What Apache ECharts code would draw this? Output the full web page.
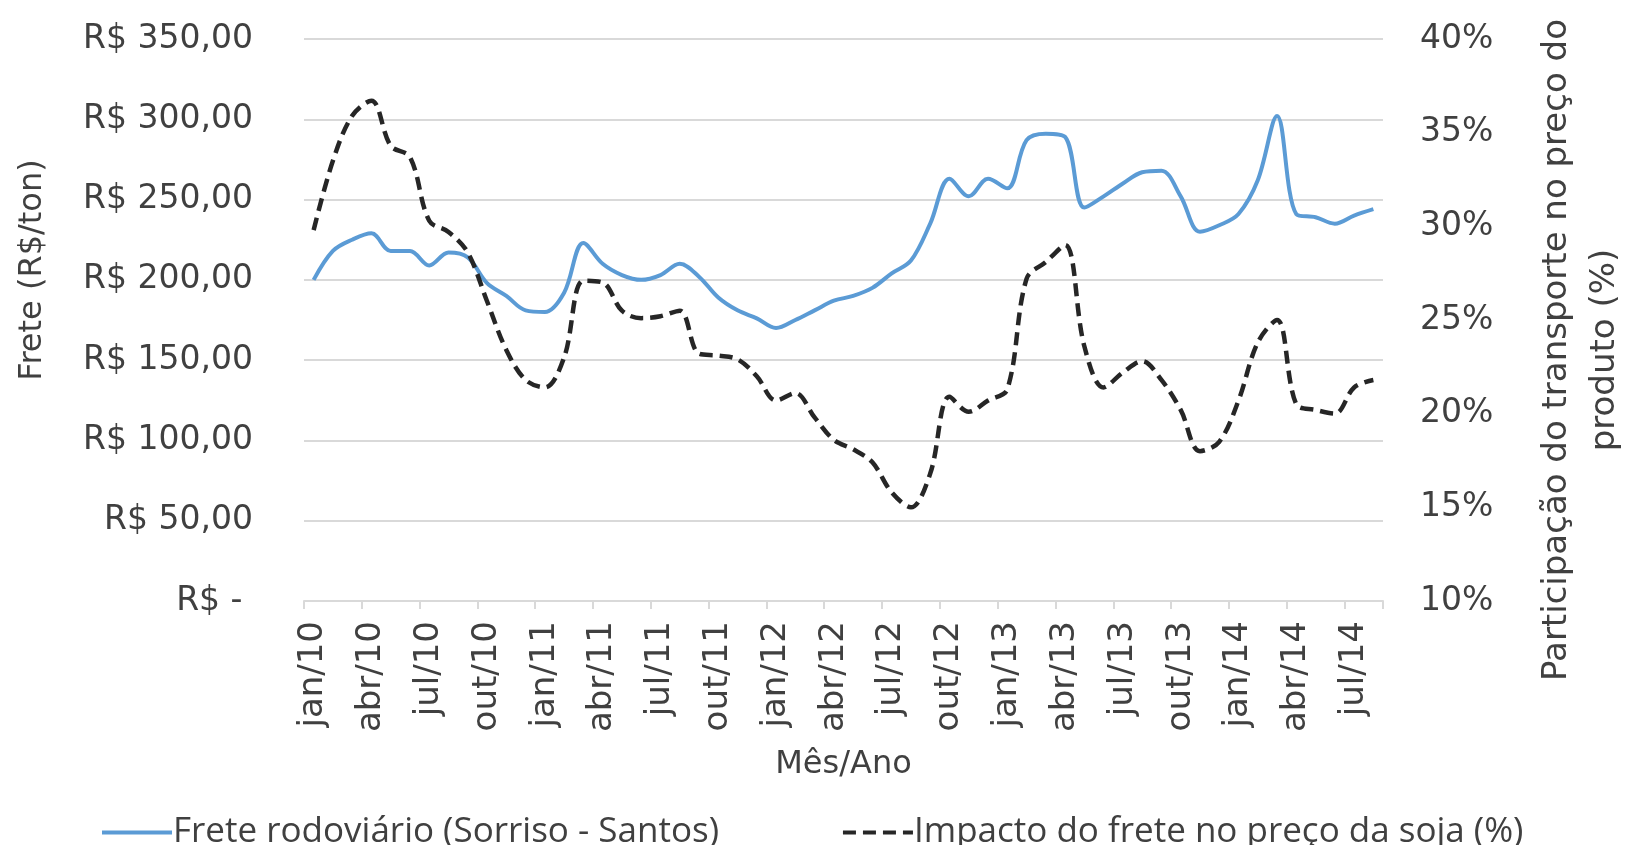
<!DOCTYPE html>
<html>
<head>
<meta charset="utf-8">
<script src="https://cdn.jsdelivr.net/npm/echarts@6/dist/echarts.min.js"></script>
<style>
  html, body { margin: 0; padding: 0; background: #fff; }
  #chart { width: 1628px; height: 845px; }
</style>
</head>
<body>
<div id="chart"></div>
<script>
// meses jan/10 .. ago/14
const mesesNomes = ['jan', 'fev', 'mar', 'abr', 'mai', 'jun', 'jul', 'ago', 'set', 'out', 'nov', 'dez']
const anos = ['10', '11', '12', '13', '14']
const meses = []
anos.forEach(a => mesesNomes.forEach(m => meses.push(m + '/' + a)))
meses.length = 56

// Frete rodoviário (R$/ton)
const frete = [
  200, 218, 225, 229, 218, 218, 209, 217, 214, 198,
  190, 181, 180, 192, 223, 210, 203, 200, 203, 210,
  202, 189, 181, 176, 170, 175, 181, 187, 190, 195,
  204, 212, 235, 263, 252, 263, 257, 287, 291, 289,
  245, 252, 260, 267, 268, 252, 230, 234, 241, 262,
  302, 241, 239, 235, 240, 244
]

// Impacto do frete no preço da soja (%)
const impacto = [
  29.8, 33.5, 35.9, 36.7, 34.3, 33.7, 30.3, 29.7, 28.6, 26.0,
  23.4, 21.8, 21.4, 23.0, 27.1, 27.0, 25.5, 25.1, 25.2, 25.5,
  23.2, 23.1, 22.9, 22.0, 20.7, 21.1, 19.8, 18.6, 18.1, 17.4,
  15.8, 15.0, 16.8, 20.9, 20.1, 20.7, 21.3, 27.2, 28.1, 29.0,
  23.6, 21.4, 22.2, 22.8, 21.8, 20.2, 18.0, 18.5, 20.7, 23.8,
  25.0, 20.5, 20.2, 20.0, 21.4, 21.8
]

const textColor = '#404040'
const tickFont = 'DejaVu Sans'

let myChart = echarts.init(document.getElementById('chart'))
let options = {
  backgroundColor: '#fff',
  animation: false,
  grid: {
    left: 304,
    right: 245,
    top: 39,
    bottom: 244,
    containLabel: false,
    outerBoundsMode: 'none'
  },
  legend: {
    left: 95,
    top: 810,
    itemWidth: 70,
    itemHeight: 14,
    itemGap: 122,
    itemStyle: { opacity: 0 },
    lineStyle: { width: 4 },
    textStyle: {
      color: textColor,
      fontFamily: 'Open Sans',
      fontSize: 35,
      padding: [0, 0, 0, -4]
    },
    data: ['Frete rodoviário (Sorriso - Santos)', 'Impacto do frete no preço da soja (%)']
  },
  xAxis: {
    type: 'category',
    data: meses,
    boundaryGap: true,
    name: 'Mês/Ano',
    nameLocation: 'middle',
    nameGap: 148,
    nameTextStyle: {
      color: textColor,
      fontFamily: tickFont,
      fontSize: 32
    },
    axisLine: {
      lineStyle: { color: '#d9d9d9', width: 2 }
    },
    axisTick: {
      show: true,
      interval: 2,
      length: 8,
      lineStyle: { color: '#d9d9d9', width: 2 }
    },
    axisLabel: {
      interval: 2,
      rotate: 90,
      margin: 20,
      color: textColor,
      fontFamily: tickFont,
      fontSize: 34
    }
  },
  yAxis: [
    // eixo esquerdo (R$)
    {
      type: 'value',
      min: 0,
      max: 350,
      interval: 50,
      name: 'Frete (R$/ton)',
      nameLocation: 'middle',
      nameGap: 255,
      nameRotate: 90,
      nameTextStyle: {
        color: textColor,
        fontFamily: tickFont,
        fontSize: 32,
        padding: [0, 0, 0, 100]
      },
      axisLine: { show: false },
      axisTick: { show: false },
      splitLine: {
        lineStyle: { color: '#d9d9d9', width: 2 }
      },
      axisLabel: {
        margin: 51,
        color: textColor,
        fontFamily: tickFont,
        fontSize: 33,
        formatter: function (v) {
          if (v === 0) return 'R$ -\u00a0'
          return 'R$ ' + v.toFixed(2).replace('.', ',')
        }
      }
    },
    // eixo direito (%)
    {
      type: 'value',
      min: 10,
      max: 40,
      interval: 5,
      position: 'right',
      name: 'Participação do transporte no preço do\nproduto (%)',
      nameLocation: 'middle',
      nameGap: 150,
      nameRotate: 90,
      nameTextStyle: {
        color: textColor,
        fontFamily: tickFont,
        fontSize: 34,
        lineHeight: 48,
        align: 'center',
        padding: [0, 60, 0, 0]
      },
      axisLine: { show: false },
      axisTick: { show: false },
      splitLine: { show: false },
      axisLabel: {
        margin: 37,
        color: textColor,
        fontFamily: tickFont,
        fontSize: 33,
        formatter: '{value}%'
      }
    }
  ],
  series: [
    {
      name: 'Frete rodoviário (Sorriso - Santos)',
      type: 'line',
      yAxisIndex: 0,
      data: frete,
      smooth: 0.35,
      showSymbol: false,
      symbol: 'none',
      lineStyle: { color: '#5b9bd5', width: 4 },
      itemStyle: { color: '#5b9bd5' }
    },
    {
      name: 'Impacto do frete no preço da soja (%)',
      type: 'line',
      yAxisIndex: 1,
      data: impacto,
      smooth: 0.35,
      showSymbol: false,
      symbol: 'none',
      lineStyle: { color: '#262626', width: 4.5, type: [13, 7] },
      itemStyle: { color: '#262626' }
    }
  ]
}
myChart.setOption(options)
</script>
</body>
</html>
